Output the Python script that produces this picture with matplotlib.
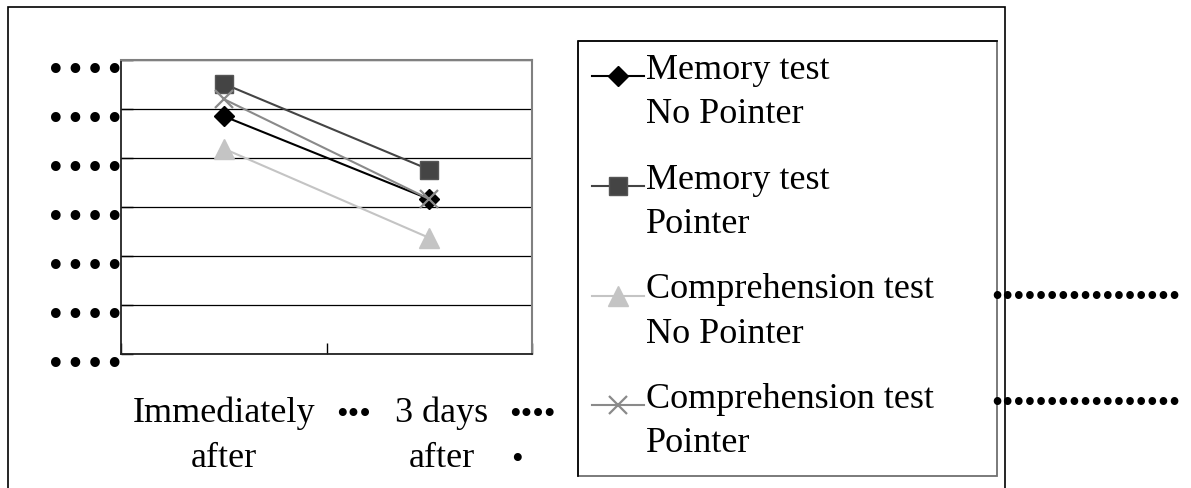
import matplotlib
matplotlib.use("Agg")
import matplotlib.pyplot as plt
from matplotlib.patches import Rectangle
from matplotlib.lines import Line2D
from matplotlib.legend_handler import HandlerLine2D
from matplotlib.transforms import ScaledTranslation

# recall scores at the two test points
TIMES = ["Immediately\nafter", "3 days\nafter"]
MEM_NO_POINTER = [4.85, 3.16]
MEM_POINTER = [5.51, 3.76]
COMP_NO_POINTER = [4.19, 2.37]
COMP_POINTER = [5.20, 3.16]
SERIES = ["Memory test\nNo Pointer", "Memory test\nPointer",
          "Comprehension test\nNo Pointer", "Comprehension test\nPointer"]
Y_TICKS = [0, 1, 2, 3, 4, 5, 6]
Y_LABELS = ["\u2022\u2022\u2022\u2022"] * len(Y_TICKS)

SERIF = "Liberation Serif"
FS = 26

W, H = 1191, 489
fig = plt.figure(figsize=(W / 100, H / 100), dpi=100)
fig.patch.set_facecolor("white")

def px(x0, y0, x1, y1):
    """pixel box (top-left origin) -> figure fraction rect"""
    return [x0 / W, 1 - y1 / H, (x1 - x0) / W, (y1 - y0) / H]


class FirstLineHandler(HandlerLine2D):
    """legend handle lifted up to sit beside the first line of a two-line label"""
    def __init__(self, dy, **kw):
        super().__init__(**kw)
        self.dy = dy

    def create_artists(self, legend, orig_handle, xdescent, ydescent,
                       width, height, fontsize, trans):
        arts = super().create_artists(legend, orig_handle, xdescent, ydescent,
                                      width, height, fontsize, trans)
        for a in arts:
            a.set_ydata([y + self.dy for y in a.get_ydata()])
        return arts


ax = fig.add_axes(px(120.7, 60.7, 532.3, 355.3))

xs = range(len(TIMES))
styles = [
    (MEM_NO_POINTER, dict(color="black", marker="D", ms=10.5, mfc="black", mec="black")),
    (MEM_POINTER, dict(color="#444444", marker="s", ms=13.5, mfc="#444444", mec="#555555")),
    (COMP_NO_POINTER, dict(color="#c4c4c4", marker="^", ms=15, mfc="#c4c4c4", mec="#c4c4c4")),
    (COMP_POINTER, dict(color="#8a8a8a", marker="x", ms=13, mew=1.6, mec="#8a8a8a")),
]
lines = []
for (vals, st), name in zip(styles, SERIES):
    ln, = ax.plot(xs, vals, lw=1.5, label=name, clip_on=False, **st)
    lines.append(ln)

ax.set_xlim(-0.5, 1.5)
ax.set_ylim(0, 6)
ax.set_yticks(Y_TICKS)
ax.set_yticklabels(Y_LABELS, fontsize=24, family="DejaVu Sans")
ax.yaxis.grid(True, color="black", lw=0.9)
ax.set_axisbelow(True)
ax.tick_params(axis="y", direction="in", length=8.5, width=1, color="black", pad=-3)
for lab in ax.get_yticklabels():
    lab.set_transform(lab.get_transform() + ScaledTranslation(0, -0.07, fig.dpi_scale_trans))

# category boundaries carry the x tick marks; names sit at the category centres
ax.set_xticks([-0.5, 0.5, 1.5])
ax.set_xticklabels([])
ax.tick_params(axis="x", direction="in", length=8, width=1, color="black")
ax.set_xticks(list(xs), minor=True)
ax.set_xticklabels(TIMES, minor=True, fontsize=FS, family=SERIF, linespacing=1.45)
ax.tick_params(axis="x", which="minor", length=0, pad=30)
xlab = ax.get_xticklabels(minor=True)
xlab[1].set_transform(xlab[1].get_transform() + ScaledTranslation(0.12, 0, fig.dpi_scale_trans))

for s in ("left", "bottom"):
    ax.spines[s].set_color("#222222")
    ax.spines[s].set_linewidth(1.3)
for s in ("top", "right"):
    ax.spines[s].set_color("#808080")
    ax.spines[s].set_linewidth(1.5)

# stray bullet runs between and beside the axis labels
fig.text(336 / W, 1 - 424 / H, "\u2022\u2022\u2022", family=SERIF, fontsize=24, va="baseline")
fig.text(509 / W, 1 - 424 / H, "\u2022\u2022\u2022\u2022", family=SERIF, fontsize=24, va="baseline")
fig.text(511 / W, 1 - 469 / H, "\u2022", family=SERIF, fontsize=24, va="baseline")

# outer frame, running off the bottom edge
outer = Rectangle((8 / W, -0.05), (1005 - 8) / W, (H - 8) / H + 0.05,
                  transform=fig.transFigure, fill=False, ec="black", lw=1.2, zorder=0)
fig.add_artist(outer)

# legend frame: dark top/left, grey bottom/right
lx0, ly0, lx1, ly1 = 578, 41.7, 997, 477
fig.add_artist(Rectangle((lx0 / W, 1 - ly1 / H), (lx1 - lx0) / W, (ly1 - ly0) / H,
                         transform=fig.transFigure, fill=False, ec="#707070", lw=1.3))
fig.add_artist(Line2D([lx0 / W, lx0 / W, lx1 / W], [1 - ly1 / H, 1 - ly0 / H, 1 - ly0 / H],
                      transform=fig.transFigure, color="black", lw=1.2))

leg = fig.legend(lines, SERIES, loc="upper left", bbox_to_anchor=(592 / W, 1 - 54 / H),
                 bbox_transform=fig.transFigure, frameon=False, borderpad=0,
                 borderaxespad=0, handlelength=1.45, handletextpad=0.05,
                 labelspacing=0.9, prop=dict(family=SERIF, size=FS),
                 handler_map={Line2D: FirstLineHandler(11, numpoints=1)})
for t in leg.get_texts():
    t.set_linespacing(1.45)

for row_y in (299, 405):
    fig.text(991 / W, 1 - row_y / H, "\u2022" * 17, family=SERIF, fontsize=23, va="center")

fig.savefig("out.png", dpi=100, facecolor="white")
